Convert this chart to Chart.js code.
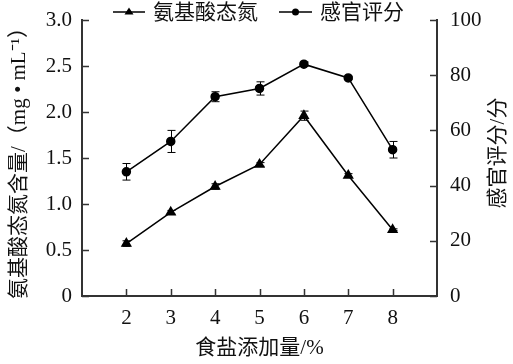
<!DOCTYPE html>
<html>
<head>
<meta charset="utf-8">
<script src="https://cdn.jsdelivr.net/npm/chart.js@4"></script>
<style>
  body { margin: 0; background: #fff; }
  canvas { display: block; }
</style>
</head>
<body>
<canvas id="myChart" width="513" height="364"></canvas>
<script>
// data
const saltLevels = [2, 3, 4, 5, 6, 7, 8]
const aminoN = [0.57, 0.91, 1.19, 1.43, 1.96, 1.31, 0.72]
const aminoErr = [0.03, 0.02, 0.03, 0.02, 0.05, 0.02, 0.01]
const sensory = [45, 56, 72.2, 75.2, 84, 79, 53]
const sensoryErr = [3, 4, 1.8, 2.4, 0.8, 0.6, 3]

const xTicks = [2, 3, 4, 5, 6, 7, 8]
const leftTicks = [0, 0.5, 1.0, 1.5, 2.0, 2.5, 3.0]
const rightTicks = [0, 20, 40, 60, 80, 100]

const legendLabels = ['氨基酸态氮', '感官评分']
const xTitle = '食盐添加量/%'
const leftTitle = '氨基酸态氮含量/（mg • mL⁻¹）'
const rightTitle = '感官评分/分'

const fontFamily = '"Liberation Serif", "Noto Sans CJK SC", serif'
const axisColor = '#333'

//plugin: inward ticks, error bars, legend, right title
const extras = {
    id: 'extras',
    afterDraw(chart) {
        const ctx = chart.ctx
        const area = chart.chartArea
        const {x, y, y2} = chart.scales

        ctx.save()
        ctx.strokeStyle = axisColor
        ctx.lineWidth = 1.5
        ctx.beginPath()
        xTicks.forEach(v => {
            const px = Math.round(x.getPixelForValue(v)) + 0.5
            ctx.moveTo(px, area.bottom)
            ctx.lineTo(px, area.bottom - 7)
        })
        leftTicks.forEach(v => {
            const py = Math.round(y.getPixelForValue(v)) + 0.5
            ctx.moveTo(area.left, py)
            ctx.lineTo(area.left + 7, py)
        })
        rightTicks.forEach(v => {
            const py = Math.round(y2.getPixelForValue(v)) + 0.5
            ctx.moveTo(area.right, py)
            ctx.lineTo(area.right - 7, py)
        })
        ctx.stroke()

        //error bars
        ctx.strokeStyle = '#000'
        ctx.lineWidth = 1
        const bars = [[aminoN, aminoErr, y], [sensory, sensoryErr, y2]]
        bars.forEach(([vals, errs, scale]) => {
            vals.forEach((v, i) => {
                const px = Math.round(x.getPixelForValue(saltLevels[i])) + 0.5
                const top = scale.getPixelForValue(v + errs[i])
                const bot = scale.getPixelForValue(v - errs[i])
                ctx.beginPath()
                ctx.moveTo(px, top); ctx.lineTo(px, bot)
                ctx.moveTo(px - 4, top); ctx.lineTo(px + 4, top)
                ctx.moveTo(px - 4, bot); ctx.lineTo(px + 4, bot)
                ctx.stroke()
            })
        })

        //legend
        ctx.strokeStyle = '#000'
        ctx.lineWidth = 1.5
        const ly = 12
        ctx.beginPath()
        ctx.moveTo(113, ly); ctx.lineTo(145, ly)
        ctx.moveTo(279, ly); ctx.lineTo(312, ly)
        ctx.stroke()
        ctx.fillStyle = '#000'
        ctx.beginPath()
        ctx.moveTo(129, ly - 4.5); ctx.lineTo(133.5, ly + 2.5); ctx.lineTo(124.5, ly + 2.5)
        ctx.closePath(); ctx.fill()
        ctx.beginPath()
        ctx.arc(295.5, ly, 3.5, 0, Math.PI * 2); ctx.fill()
        ctx.fillStyle = '#111'
        ctx.font = '21px ' + fontFamily
        ctx.textBaseline = 'middle'
        ctx.textAlign = 'left'
        ctx.fillText(legendLabels[0], 153, ly + 1)
        ctx.fillText(legendLabels[1], 320, ly + 1)

        //right title, reading bottom to top
        ctx.translate(498, 153)
        ctx.rotate(-Math.PI / 2)
        ctx.textAlign = 'center'
        ctx.fillText(rightTitle, 0, 0)
        ctx.restore()
    }
}

const data = {
    datasets: [{
        label: legendLabels[0],
        data: saltLevels.map((s, i) => ({x: s, y: aminoN[i]})),
        yAxisID: 'y',
        borderColor: '#000',
        backgroundColor: '#000',
        borderWidth: 1.5,
        pointStyle: 'triangle',
        pointRadius: 5,
    },
    {
        label: legendLabels[1],
        data: saltLevels.map((s, i) => ({x: s, y: sensory[i]})),
        yAxisID: 'y2',
        borderColor: '#000',
        backgroundColor: '#000',
        borderWidth: 1.5,
        pointStyle: 'circle',
        pointRadius: 4,
    }]
}

const tickFont = {family: fontFamily, size: 21}
const titleFont = {family: fontFamily, size: 21}

const config = {
    type: 'line',
    data: data,
    options: {
        responsive: false,
        animation: false,
        layout: {padding: {top: 20, left: 0, right: 0, bottom: 0}},
        plugins: {legend: {display: false}, tooltip: {enabled: false}},
        scales: {
            x: {
                type: 'linear', min: 1, max: 9,
                afterBuildTicks: s => { s.ticks = xTicks.map(v => ({value: v})) },
                afterFit: s => { s.height = 68 },
                grid: {display: false},
                border: {display: true, color: axisColor, width: 2},
                ticks: {font: tickFont, color: '#111', padding: 2, maxRotation: 0},
                title: {display: true, text: xTitle, font: titleFont, color: '#111', padding: {top: 0, bottom: 3}}
            },
            y: {
                position: 'left', min: 0, max: 3,
                afterBuildTicks: s => { s.ticks = leftTicks.map(v => ({value: v})) },
                afterFit: s => { s.width = 82 },
                grid: {display: false},
                border: {display: true, color: axisColor, width: 2},
                ticks: {font: tickFont, color: '#111', padding: 2, callback: v => v === 0 ? '0' : v.toFixed(1)},
                title: {display: true, text: leftTitle, font: titleFont, color: '#111', padding: {top: 7, bottom: 0}}
            },
            y2: {
                position: 'right', min: 0, max: 100,
                afterBuildTicks: s => { s.ticks = rightTicks.map(v => ({value: v})) },
                afterFit: s => { s.width = 76 },
                grid: {display: false},
                border: {display: true, color: axisColor, width: 2},
                ticks: {font: tickFont, color: '#111', padding: 5}
            }
        }
    },
    plugins: [extras]
}

const myChart = new Chart(document.getElementById('myChart'), config)
</script>
</body>
</html>
